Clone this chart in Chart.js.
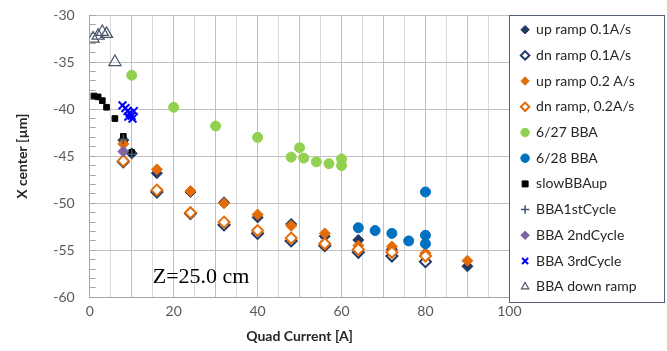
<!DOCTYPE html>
<html>
<head>
<meta charset="utf-8">
<script src="https://cdn.jsdelivr.net/npm/chart.js@4.4.1/dist/chart.umd.min.js"></script>
<style>
  html, body { margin: 0; padding: 0; background: #fff; }
</style>
</head>
<body>
<canvas id="chart" width="667" height="351"></canvas>
<script>
// Données
const upRamp01X = [8, 10, 16, 24, 32, 40, 48, 56, 64, 72, 80, 90];
const upRamp01Y = [-43.3, -44.7, -46.8, -48.8, -49.9, -51.5, -52.2, -53.5, -53.9, -54.9, -55.6, -56.7];

const dnRamp01X = [8, 16, 24, 32, 40, 48, 56, 64, 72, 80];
const dnRamp01Y = [-45.6, -48.8, -51.1, -52.3, -53.2, -54.0, -54.5, -55.2, -55.6, -56.2];

const upRamp02X = [8, 16, 24, 32, 40, 48, 56, 64, 72, 80, 90];
const upRamp02Y = [-43.7, -46.4, -48.7, -50.0, -51.2, -52.4, -53.2, -54.5, -54.6, -55.3, -56.1];

const dnRamp02X = [8, 16, 24, 32, 40, 48, 56, 64, 72, 80];
const dnRamp02Y = [-45.5, -48.6, -51.0, -52.0, -52.9, -53.7, -54.3, -54.9, -55.2, -55.6];

const bba0627X = [10, 20, 30, 40, 48, 50, 51, 54, 57, 60, 60];
const bba0627Y = [-36.4, -39.8, -41.8, -43.0, -45.1, -44.1, -45.2, -45.6, -45.8, -45.3, -46.0];

const bba0628X = [64, 68, 72, 76, 80, 80, 80];
const bba0628Y = [-52.6, -52.9, -53.2, -54.0, -48.8, -53.4, -54.3];

const slowUpX = [1, 2, 3, 4, 6, 8, 10];
const slowUpY = [-38.6, -38.7, -39.1, -39.8, -41.0, -42.9, -44.6];

const cycle1X = [8, 10];
const cycle1Y = [-43.2, -44.8];

const cycle2X = [8];
const cycle2Y = [-44.5];

const cycle3X = [7.8, 8.5, 9, 9.5, 10, 10.5, 9.2, 10.2];
const cycle3Y = [-39.6, -39.9, -40.2, -40.4, -40.7, -40.2, -40.8, -41.0];

const downRampX = [0.8, 2, 3, 4, 6];
const downRampY = [-32.5, -32.2, -31.8, -32.0, -35.0];

const seriesNames = [
    'up ramp 0.1A/s', 'dn ramp 0.1A/s', 'up ramp 0.2 A/s', 'dn ramp, 0.2A/s',
    '6/27 BBA', '6/28 BBA', 'slowBBAup', 'BBA1stCycle', 'BBA 2ndCycle',
    'BBA 3rdCycle', 'BBA down ramp'
];

// Fonction pour assembler les points {x, y}
function toPoints(xs, ys) {
    return xs.map((x, i) => ({ x: x, y: ys[i] }));
}

const navy = '#1F3864';
const orange = '#E36C09';

const styles = [
    { style: 'rectRot', r: 5.5, bg: navy, border: navy, bw: 1 },
    { style: 'rectRot', r: 5.5, bg: '#FFFFFF', border: navy, bw: 2 },
    { style: 'rectRot', r: 5.5, bg: orange, border: orange, bw: 1 },
    { style: 'rectRot', r: 5.5, bg: '#FFFFFF', border: orange, bw: 2 },
    { style: 'circle', r: 5, bg: '#92D050', border: '#92D050', bw: 1 },
    { style: 'circle', r: 5, bg: '#0070C0', border: '#0070C0', bw: 1 },
    { style: 'rect', r: 4, bg: '#000000', border: '#000000', bw: 1 },
    { style: 'cross', r: 5, bg: '#44546A', border: '#44546A', bw: 1.5 },
    { style: 'rectRot', r: 5.5, bg: '#8064A2', border: '#8064A2', bw: 1 },
    { style: 'crossRot', r: 5.5, bg: '#0000FF', border: '#0000FF', bw: 2 },
    { style: 'triangle', r: 7, bg: 'rgba(255,255,255,0)', border: '#44546A', bw: 1.2 }
];

const allX = [upRamp01X, dnRamp01X, upRamp02X, dnRamp02X, bba0627X, bba0628X, slowUpX, cycle1X, cycle2X, cycle3X, downRampX];
const allY = [upRamp01Y, dnRamp01Y, upRamp02Y, dnRamp02Y, bba0627Y, bba0628Y, slowUpY, cycle1Y, cycle2Y, cycle3Y, downRampY];

const datasets = seriesNames.map((name, i) => ({
    label: name,
    data: toPoints(allX[i], allY[i]),
    pointStyle: styles[i].style,
    pointRadius: styles[i].r,
    pointHoverRadius: styles[i].r,
    backgroundColor: styles[i].bg,
    borderColor: styles[i].border,
    pointBorderWidth: styles[i].bw,
    borderWidth: styles[i].bw,
    order: -i // la dernière série est dessinée au-dessus, comme dans Excel
}));

// Texte Z + cadre de la légende
const extras = {
    id: 'extras',
    afterDatasetsDraw(chart) {
        const ctx = chart.ctx;
        const x = chart.scales.x, y = chart.scales.y;
        ctx.save();
        ctx.font = '22px "Liberation Serif"';
        ctx.fillStyle = '#000';
        ctx.textBaseline = 'middle';
        ctx.fillText('Z=25.0 cm', x.getPixelForValue(15.0), y.getPixelForValue(-57.9));
        ctx.restore();
    },
    afterDraw(chart) {
        const ctx = chart.ctx;
        // on vide la pile d'états pour enlever un éventuel clip resté actif
        for (let i = 0; i < 30; i++) ctx.restore();
        ctx.setTransform(1, 0, 0, 1, 0, 0);
        ctx.globalAlpha = 1;
        ctx.globalCompositeOperation = 'source-over';
        const x0 = Math.round(chart.chartArea.right);
        ctx.fillStyle = '#536078';
        ctx.fillRect(x0, 15, 664 - x0, 1);
        ctx.fillRect(x0, 302, 664 - x0 + 1, 1);
        ctx.fillRect(x0, 15, 1, 287);
        ctx.fillRect(664, 15, 1, 287);
    }
};

const tickFont = { family: 'Lato', size: 14 };

new Chart(document.getElementById('chart').getContext('2d'), {
    type: 'scatter',
    data: { datasets: datasets },
    plugins: [extras],
    options: {
        responsive: false,
        animation: false,
        layout: { padding: { left: 11.5, right: 20.5, top: 11, bottom: 6 } },
        plugins: {
            tooltip: { enabled: false },
            legend: {
                position: 'right',
                align: 'start',
                labels: {
                    usePointStyle: true,
                    boxWidth: 8,
                    boxHeight: 6,
                    padding: 11.7,
                    color: '#262626',
                    font: { family: 'Lato', size: 14 },
                    sort: (a, b) => a.datasetIndex - b.datasetIndex
                }
            }
        },
        scales: {
            x: {
                type: 'linear',
                min: 0,
                max: 100,
                ticks: {
                    stepSize: 5,
                    autoSkip: false,
                    maxRotation: 0,
                    color: '#595959',
                    font: tickFont,
                    padding: 6,
                    callback: v => (v % 20 === 0 ? v : '')
                },
                grid: {
                    color: c => (c.tick.value % 10 === 0 ? '#BFBFBF' : '#D9D9D9'),
                    drawTicks: false
                },
                border: { color: '#A6A6A6' },
                title: {
                    display: true,
                    text: 'Quad Current [A]',
                    color: '#262626',
                    font: { family: 'Lato', size: 14, weight: 'bold' },
                    padding: { top: 2, bottom: 0 }
                }
            },
            y: {
                type: 'linear',
                min: -60,
                max: -30,
                afterFit: s => { s.paddingTop = 15; s.paddingBottom = 8; },
                ticks: {
                    stepSize: 1,
                    autoSkip: false,
                    color: '#595959',
                    font: tickFont,
                    padding: 21,
                    callback: v => (v % 5 === 0 ? v : '')
                },
                grid: {
                    color: c => (c.tick.value % 5 === 0 ? '#BFBFBF' : 'rgba(0,0,0,0)'),
                    tickColor: '#A6A6A6',
                    tickLength: -6
                },
                border: { color: '#A6A6A6' },
                title: {
                    display: true,
                    text: 'X center [µm]',
                    color: '#262626',
                    font: { family: 'Lato', size: 14, weight: 'bold' },
                    padding: { top: 3, bottom: 1 }
                }
            }
        }
    }
});
</script>
</body>
</html>
